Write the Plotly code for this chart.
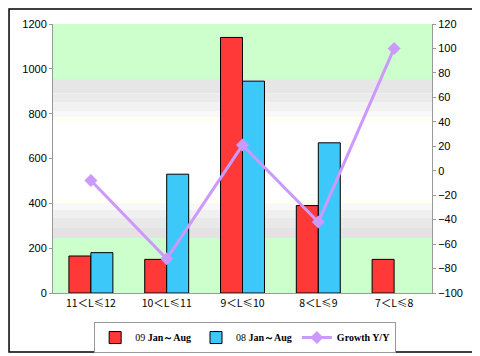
import plotly.graph_objects as go

categories = ["11＜L≤12", "10＜L≤11", "9＜L≤10", "8＜L≤9", "7＜L≤8"]
sales_09 = [165, 150, 1140, 390, 150]
sales_08 = [180, 530, 945, 670, None]
growth = [-8, -72, 21, -42, 100]

fig = go.Figure()
fig.add_trace(go.Bar(x=categories, y=sales_09, name="09 <b>Jan～Aug</b>",
                     marker=dict(color="#FF3838", line=dict(color="#000000", width=1))))
fig.add_trace(go.Bar(x=categories, y=sales_08, name="08 <b>Jan～Aug</b>",
                     marker=dict(color="#3CC8F8", line=dict(color="#000000", width=1))))
fig.add_trace(go.Scatter(x=categories, y=growth, name="<b>Growth Y/Y</b>", yaxis="y2",
                         mode="lines+markers",
                         line=dict(color="#CC99FF", width=3),
                         marker=dict(symbol="diamond", size=10, color="#CC99FF")))

shapes = []
# background bands
bands = [
    (955, 1200, "#CCFFCC"),
    (890, 955, "#E6E6E6"),
    (850, 890, "#EBEBEB"),
    (810, 850, "#F2F2F2"),
    (785, 810, "#F8F8F8"),
    (765, 785, "#FFFFF2"),
    (400, 415, "#FFFFF2"),
    (370, 400, "#F8F8F8"),
    (335, 370, "#F0F0F0"),
    (290, 335, "#E9E9E9"),
    (245, 290, "#E3E3E3"),
    (0, 245, "#CCFFCC"),
]
for y0, y1, c in bands:
    shapes.append(dict(type="rect", xref="paper", yref="y", x0=0, x1=1, y0=y0, y1=y1,
                       fillcolor=c, line=dict(width=0), layer="below"))
# outer border
shapes.append(dict(type="rect", xref="paper", yref="paper", x0=-0.116, x1=1.116,
                   y0=-0.219, y1=1.056, line=dict(color="#000000", width=1.5)))

fig.update_layout(
    width=472, height=348,
    margin=dict(l=45, r=48, t=16, b=63, autoexpand=False),
    paper_bgcolor="white", plot_bgcolor="white",
    barmode="group", bargap=0.42, bargroupgap=0,
    shapes=shapes,
    font=dict(family="Arial, Liberation Sans", size=11, color="#000000"),
    xaxis=dict(showline=True, linecolor="#999999", linewidth=1, ticks="",
               tickfont=dict(family="Noto Sans CJK SC", size=10.5), showgrid=False),
    yaxis=dict(range=[0, 1200], dtick=200, showline=True, linecolor="#999999",
               ticks="outside", ticklen=3, tickcolor="#999999", showgrid=False,
               zeroline=False, tickfont=dict(size=11)),
    yaxis2=dict(range=[-100, 120], dtick=20, overlaying="y", side="right",
                showline=True, linecolor="#999999", ticks="outside", ticklen=3,
                tickcolor="#999999", showgrid=False, zeroline=False,
                tickfont=dict(size=11)),
    legend=dict(orientation="h", x=0.507, xanchor="center", y=-0.108, yanchor="top",
                bordercolor="#999999", borderwidth=1,
                font=dict(family="Liberation Serif", size=10),
                itemwidth=30, tracegroupgap=0),
    showlegend=True,
)

fig.write_html("out.html")
